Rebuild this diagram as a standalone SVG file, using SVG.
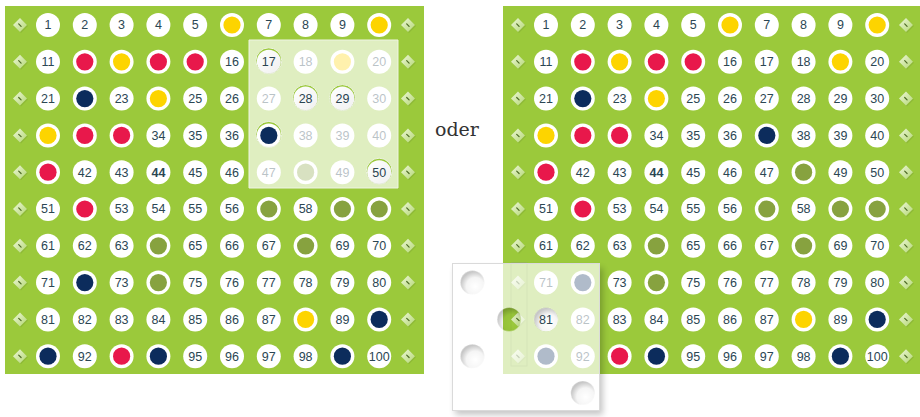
<svg xmlns="http://www.w3.org/2000/svg" xmlns:xlink="http://www.w3.org/1999/xlink" width="920" height="417" viewBox="0 0 920 417">
<style>
text{font-family:"Liberation Sans",Arial,sans-serif;font-size:12.5px;fill:#2b4653;text-anchor:middle}
.b{font-weight:bold}
.board{fill:#9bc93b}
.oder{font-family:"DejaVu Serif","Liberation Serif",serif;font-size:19px;fill:#333;text-anchor:start}
</style>
<defs>
<linearGradient id="dg" x1="0" y1="0" x2="1" y2="1"><stop offset="0" stop-color="#eef7da"/><stop offset="1" stop-color="#b3d773"/></linearGradient>
<radialGradient id="hs" cx=".62" cy=".66" r=".62"><stop offset="0" stop-color="#000" stop-opacity="0"/><stop offset=".6" stop-color="#000" stop-opacity=".04"/><stop offset="1" stop-color="#000" stop-opacity=".22"/></radialGradient>
<linearGradient id="hl" x1="0" y1="0" x2="1" y2="1"><stop offset="0" stop-color="#000" stop-opacity="0"/><stop offset="1" stop-color="#000" stop-opacity=".06"/></linearGradient>
<circle id="wc" r="12" fill="#fff"/>
<g id="dR"><circle r="12" fill="#fff"/><circle r="8.6" fill="#e8184b"/></g>
<g id="dY"><circle r="12" fill="#fff"/><circle r="8.6" fill="#fdd400"/></g>
<g id="dN"><circle r="12" fill="#fff"/><circle r="8.6" fill="#0c2c5c"/></g>
<g id="dO"><circle r="12" fill="#fff"/><circle r="8.6" fill="#87a23f"/></g>
<g id="dm"><polygon points="1,-6 8,1 1,8 -6,1" fill="#000" opacity=".08"/><polygon points="0,-7 7,0 0,7 -7,0" fill="url(#dg)"/><path d="M-1.3,-1.1 L1.1,1.3" stroke="#4d6a26" stroke-width="1.2" stroke-linecap="round"/></g>
<filter id="sh" x="-20%" y="-20%" width="140%" height="140%"><feGaussianBlur stdDeviation="3"/></filter>
<clipPath id="outCard"><path clip-rule="evenodd" d="M0,0H920V417H0Z M452,263H600V411H452Z"/></clipPath>
</defs>

<g id="board-left">
<rect class="board" x="5" y="6" width="419" height="368"/>
<g transform="translate(0,25)"><use href="#dm" x="20"/><use href="#wc" x="48"/><text x="48" y="4.4">1</text><use href="#wc" x="84.8"/><text x="84.8" y="4.4">2</text><use href="#wc" x="121.6"/><text x="121.6" y="4.4">3</text><use href="#wc" x="158.4"/><text x="158.4" y="4.4">4</text><use href="#wc" x="195.2"/><text x="195.2" y="4.4">5</text><use href="#dY" x="232"/><use href="#wc" x="268.8"/><text x="268.8" y="4.4">7</text><use href="#wc" x="305.6"/><text x="305.6" y="4.4">8</text><use href="#wc" x="342.4"/><text x="342.4" y="4.4">9</text><use href="#dY" x="379.2"/><use href="#dm" x="408"/></g>
<g transform="translate(0,61.8)"><use href="#dm" x="20"/><use href="#wc" x="48"/><text x="48" y="4.4">11</text><use href="#dR" x="84.8"/><use href="#dY" x="121.6"/><use href="#dR" x="158.4"/><use href="#dR" x="195.2"/><use href="#wc" x="232"/><text x="232" y="4.4">16</text><use href="#wc" x="268.8"/><text x="268.8" y="4.4">17</text><use href="#wc" x="305.6"/><text x="305.6" y="4.4">18</text><use href="#dY" x="342.4"/><use href="#wc" x="379.2"/><text x="379.2" y="4.4">20</text><use href="#dm" x="408"/></g>
<g transform="translate(0,98.6)"><use href="#dm" x="20"/><use href="#wc" x="48"/><text x="48" y="4.4">21</text><use href="#dN" x="84.8"/><use href="#wc" x="121.6"/><text x="121.6" y="4.4">23</text><use href="#dY" x="158.4"/><use href="#wc" x="195.2"/><text x="195.2" y="4.4">25</text><use href="#wc" x="232"/><text x="232" y="4.4">26</text><use href="#wc" x="268.8"/><text x="268.8" y="4.4">27</text><use href="#wc" x="305.6"/><text x="305.6" y="4.4">28</text><use href="#wc" x="342.4"/><text x="342.4" y="4.4">29</text><use href="#wc" x="379.2"/><text x="379.2" y="4.4">30</text><use href="#dm" x="408"/></g>
<g transform="translate(0,135.4)"><use href="#dm" x="20"/><use href="#dY" x="48"/><use href="#dR" x="84.8"/><use href="#dR" x="121.6"/><use href="#wc" x="158.4"/><text x="158.4" y="4.4">34</text><use href="#wc" x="195.2"/><text x="195.2" y="4.4">35</text><use href="#wc" x="232"/><text x="232" y="4.4">36</text><use href="#dN" x="268.8"/><use href="#wc" x="305.6"/><text x="305.6" y="4.4">38</text><use href="#wc" x="342.4"/><text x="342.4" y="4.4">39</text><use href="#wc" x="379.2"/><text x="379.2" y="4.4">40</text><use href="#dm" x="408"/></g>
<g transform="translate(0,172.2)"><use href="#dm" x="20"/><use href="#dR" x="48"/><use href="#wc" x="84.8"/><text x="84.8" y="4.4">42</text><use href="#wc" x="121.6"/><text x="121.6" y="4.4">43</text><use href="#wc" x="158.4"/><text class="b" x="158.4" y="4.4">44</text><use href="#wc" x="195.2"/><text x="195.2" y="4.4">45</text><use href="#wc" x="232"/><text x="232" y="4.4">46</text><use href="#wc" x="268.8"/><text x="268.8" y="4.4">47</text><use href="#dO" x="305.6"/><use href="#wc" x="342.4"/><text x="342.4" y="4.4">49</text><use href="#wc" x="379.2"/><text x="379.2" y="4.4">50</text><use href="#dm" x="408"/></g>
<g transform="translate(0,209)"><use href="#dm" x="20"/><use href="#wc" x="48"/><text x="48" y="4.4">51</text><use href="#dR" x="84.8"/><use href="#wc" x="121.6"/><text x="121.6" y="4.4">53</text><use href="#wc" x="158.4"/><text x="158.4" y="4.4">54</text><use href="#wc" x="195.2"/><text x="195.2" y="4.4">55</text><use href="#wc" x="232"/><text x="232" y="4.4">56</text><use href="#dO" x="268.8"/><use href="#wc" x="305.6"/><text x="305.6" y="4.4">58</text><use href="#dO" x="342.4"/><use href="#dO" x="379.2"/><use href="#dm" x="408"/></g>
<g transform="translate(0,245.8)"><use href="#dm" x="20"/><use href="#wc" x="48"/><text x="48" y="4.4">61</text><use href="#wc" x="84.8"/><text x="84.8" y="4.4">62</text><use href="#wc" x="121.6"/><text x="121.6" y="4.4">63</text><use href="#dO" x="158.4"/><use href="#wc" x="195.2"/><text x="195.2" y="4.4">65</text><use href="#wc" x="232"/><text x="232" y="4.4">66</text><use href="#wc" x="268.8"/><text x="268.8" y="4.4">67</text><use href="#dO" x="305.6"/><use href="#wc" x="342.4"/><text x="342.4" y="4.4">69</text><use href="#wc" x="379.2"/><text x="379.2" y="4.4">70</text><use href="#dm" x="408"/></g>
<g transform="translate(0,282.6)"><use href="#dm" x="20"/><use href="#wc" x="48"/><text x="48" y="4.4">71</text><use href="#dN" x="84.8"/><use href="#wc" x="121.6"/><text x="121.6" y="4.4">73</text><use href="#dO" x="158.4"/><use href="#wc" x="195.2"/><text x="195.2" y="4.4">75</text><use href="#wc" x="232"/><text x="232" y="4.4">76</text><use href="#wc" x="268.8"/><text x="268.8" y="4.4">77</text><use href="#wc" x="305.6"/><text x="305.6" y="4.4">78</text><use href="#wc" x="342.4"/><text x="342.4" y="4.4">79</text><use href="#wc" x="379.2"/><text x="379.2" y="4.4">80</text><use href="#dm" x="408"/></g>
<g transform="translate(0,319.4)"><use href="#dm" x="20"/><use href="#wc" x="48"/><text x="48" y="4.4">81</text><use href="#wc" x="84.8"/><text x="84.8" y="4.4">82</text><use href="#wc" x="121.6"/><text x="121.6" y="4.4">83</text><use href="#wc" x="158.4"/><text x="158.4" y="4.4">84</text><use href="#wc" x="195.2"/><text x="195.2" y="4.4">85</text><use href="#wc" x="232"/><text x="232" y="4.4">86</text><use href="#wc" x="268.8"/><text x="268.8" y="4.4">87</text><use href="#dY" x="305.6"/><use href="#wc" x="342.4"/><text x="342.4" y="4.4">89</text><use href="#dN" x="379.2"/><use href="#dm" x="408"/></g>
<g transform="translate(0,356.2)"><use href="#dm" x="20"/><use href="#dN" x="48"/><use href="#wc" x="84.8"/><text x="84.8" y="4.4">92</text><use href="#dR" x="121.6"/><use href="#dN" x="158.4"/><use href="#wc" x="195.2"/><text x="195.2" y="4.4">95</text><use href="#wc" x="232"/><text x="232" y="4.4">96</text><use href="#wc" x="268.8"/><text x="268.8" y="4.4">97</text><use href="#wc" x="305.6"/><text x="305.6" y="4.4">98</text><use href="#dN" x="342.4"/><use href="#wc" x="379.2"/><text x="379.2" y="4.4">100</text><use href="#dm" x="408"/></g>
</g>

<g id="mask-left">
<path fill="#fff" fill-opacity=".68" fill-rule="evenodd" stroke="#eef4e2" stroke-width="1" d="M249,40H398V188H249Z M255.8,60.8a13,13 0 1,0 26,0a13,13 0 1,0 -26,0Z M292.6,97.6a13,13 0 1,0 26,0a13,13 0 1,0 -26,0Z M329.4,97.6a13,13 0 1,0 26,0a13,13 0 1,0 -26,0Z M255.8,134.4a13,13 0 1,0 26,0a13,13 0 1,0 -26,0Z M366.2,171.2a13,13 0 1,0 26,0a13,13 0 1,0 -26,0Z"/>
<g fill="url(#hl)"><circle cx="268.8" cy="61.8" r="12"/><circle cx="305.6" cy="98.6" r="12"/><circle cx="342.4" cy="98.6" r="12"/><circle cx="379.2" cy="172.2" r="12"/></g>
</g>

<text id="oder" class="oder" x="435" y="136">oder</text>

<g id="board-right" transform="translate(498,0)">
<rect class="board" x="5" y="6" width="420" height="368"/>
<g transform="translate(0,25)"><use href="#dm" x="20"/><use href="#wc" x="48"/><text x="48" y="4.4">1</text><use href="#wc" x="84.8"/><text x="84.8" y="4.4">2</text><use href="#wc" x="121.6"/><text x="121.6" y="4.4">3</text><use href="#wc" x="158.4"/><text x="158.4" y="4.4">4</text><use href="#wc" x="195.2"/><text x="195.2" y="4.4">5</text><use href="#dY" x="232"/><use href="#wc" x="268.8"/><text x="268.8" y="4.4">7</text><use href="#wc" x="305.6"/><text x="305.6" y="4.4">8</text><use href="#wc" x="342.4"/><text x="342.4" y="4.4">9</text><use href="#dY" x="379.2"/><use href="#dm" x="408"/></g>
<g transform="translate(0,61.8)"><use href="#dm" x="20"/><use href="#wc" x="48"/><text x="48" y="4.4">11</text><use href="#dR" x="84.8"/><use href="#dY" x="121.6"/><use href="#dR" x="158.4"/><use href="#dR" x="195.2"/><use href="#wc" x="232"/><text x="232" y="4.4">16</text><use href="#wc" x="268.8"/><text x="268.8" y="4.4">17</text><use href="#wc" x="305.6"/><text x="305.6" y="4.4">18</text><use href="#dY" x="342.4"/><use href="#wc" x="379.2"/><text x="379.2" y="4.4">20</text><use href="#dm" x="408"/></g>
<g transform="translate(0,98.6)"><use href="#dm" x="20"/><use href="#wc" x="48"/><text x="48" y="4.4">21</text><use href="#dN" x="84.8"/><use href="#wc" x="121.6"/><text x="121.6" y="4.4">23</text><use href="#dY" x="158.4"/><use href="#wc" x="195.2"/><text x="195.2" y="4.4">25</text><use href="#wc" x="232"/><text x="232" y="4.4">26</text><use href="#wc" x="268.8"/><text x="268.8" y="4.4">27</text><use href="#wc" x="305.6"/><text x="305.6" y="4.4">28</text><use href="#wc" x="342.4"/><text x="342.4" y="4.4">29</text><use href="#wc" x="379.2"/><text x="379.2" y="4.4">30</text><use href="#dm" x="408"/></g>
<g transform="translate(0,135.4)"><use href="#dm" x="20"/><use href="#dY" x="48"/><use href="#dR" x="84.8"/><use href="#dR" x="121.6"/><use href="#wc" x="158.4"/><text x="158.4" y="4.4">34</text><use href="#wc" x="195.2"/><text x="195.2" y="4.4">35</text><use href="#wc" x="232"/><text x="232" y="4.4">36</text><use href="#dN" x="268.8"/><use href="#wc" x="305.6"/><text x="305.6" y="4.4">38</text><use href="#wc" x="342.4"/><text x="342.4" y="4.4">39</text><use href="#wc" x="379.2"/><text x="379.2" y="4.4">40</text><use href="#dm" x="408"/></g>
<g transform="translate(0,172.2)"><use href="#dm" x="20"/><use href="#dR" x="48"/><use href="#wc" x="84.8"/><text x="84.8" y="4.4">42</text><use href="#wc" x="121.6"/><text x="121.6" y="4.4">43</text><use href="#wc" x="158.4"/><text class="b" x="158.4" y="4.4">44</text><use href="#wc" x="195.2"/><text x="195.2" y="4.4">45</text><use href="#wc" x="232"/><text x="232" y="4.4">46</text><use href="#wc" x="268.8"/><text x="268.8" y="4.4">47</text><use href="#dO" x="305.6"/><use href="#wc" x="342.4"/><text x="342.4" y="4.4">49</text><use href="#wc" x="379.2"/><text x="379.2" y="4.4">50</text><use href="#dm" x="408"/></g>
<g transform="translate(0,209)"><use href="#dm" x="20"/><use href="#wc" x="48"/><text x="48" y="4.4">51</text><use href="#dR" x="84.8"/><use href="#wc" x="121.6"/><text x="121.6" y="4.4">53</text><use href="#wc" x="158.4"/><text x="158.4" y="4.4">54</text><use href="#wc" x="195.2"/><text x="195.2" y="4.4">55</text><use href="#wc" x="232"/><text x="232" y="4.4">56</text><use href="#dO" x="268.8"/><use href="#wc" x="305.6"/><text x="305.6" y="4.4">58</text><use href="#dO" x="342.4"/><use href="#dO" x="379.2"/><use href="#dm" x="408"/></g>
<g transform="translate(0,245.8)"><use href="#dm" x="20"/><use href="#wc" x="48"/><text x="48" y="4.4">61</text><use href="#wc" x="84.8"/><text x="84.8" y="4.4">62</text><use href="#wc" x="121.6"/><text x="121.6" y="4.4">63</text><use href="#dO" x="158.4"/><use href="#wc" x="195.2"/><text x="195.2" y="4.4">65</text><use href="#wc" x="232"/><text x="232" y="4.4">66</text><use href="#wc" x="268.8"/><text x="268.8" y="4.4">67</text><use href="#dO" x="305.6"/><use href="#wc" x="342.4"/><text x="342.4" y="4.4">69</text><use href="#wc" x="379.2"/><text x="379.2" y="4.4">70</text><use href="#dm" x="408"/></g>
<g transform="translate(0,282.6)"><use href="#dm" x="20"/><use href="#wc" x="48"/><text x="48" y="4.4">71</text><use href="#dN" x="84.8"/><use href="#wc" x="121.6"/><text x="121.6" y="4.4">73</text><use href="#dO" x="158.4"/><use href="#wc" x="195.2"/><text x="195.2" y="4.4">75</text><use href="#wc" x="232"/><text x="232" y="4.4">76</text><use href="#wc" x="268.8"/><text x="268.8" y="4.4">77</text><use href="#wc" x="305.6"/><text x="305.6" y="4.4">78</text><use href="#wc" x="342.4"/><text x="342.4" y="4.4">79</text><use href="#wc" x="379.2"/><text x="379.2" y="4.4">80</text><use href="#dm" x="408"/></g>
<g transform="translate(0,319.4)"><use href="#dm" x="20"/><use href="#wc" x="48"/><text x="48" y="4.4">81</text><use href="#wc" x="84.8"/><text x="84.8" y="4.4">82</text><use href="#wc" x="121.6"/><text x="121.6" y="4.4">83</text><use href="#wc" x="158.4"/><text x="158.4" y="4.4">84</text><use href="#wc" x="195.2"/><text x="195.2" y="4.4">85</text><use href="#wc" x="232"/><text x="232" y="4.4">86</text><use href="#wc" x="268.8"/><text x="268.8" y="4.4">87</text><use href="#dY" x="305.6"/><use href="#wc" x="342.4"/><text x="342.4" y="4.4">89</text><use href="#dN" x="379.2"/><use href="#dm" x="408"/></g>
<g transform="translate(0,356.2)"><use href="#dm" x="20"/><use href="#dN" x="48"/><use href="#wc" x="84.8"/><text x="84.8" y="4.4">92</text><use href="#dR" x="121.6"/><use href="#dN" x="158.4"/><use href="#wc" x="195.2"/><text x="195.2" y="4.4">95</text><use href="#wc" x="232"/><text x="232" y="4.4">96</text><use href="#wc" x="268.8"/><text x="268.8" y="4.4">97</text><use href="#wc" x="305.6"/><text x="305.6" y="4.4">98</text><use href="#dN" x="342.4"/><use href="#wc" x="379.2"/><text x="379.2" y="4.4">100</text><use href="#dm" x="408"/></g>
</g>

<g id="card-right">
<g clip-path="url(#outCard)"><rect x="455" y="268" width="148" height="147" fill="#000" opacity=".22" filter="url(#sh)"/></g>
<path fill="#fff" fill-opacity=".68" fill-rule="evenodd" d="M452,263H600V411H452Z M460.4,282.6a12,12 0 1,0 24,0a12,12 0 1,0 -24,0Z M497.2,319.4a12,12 0 1,0 24,0a12,12 0 1,0 -24,0Z M534,319.4a12,12 0 1,0 24,0a12,12 0 1,0 -24,0Z M460.4,356.2a12,12 0 1,0 24,0a12,12 0 1,0 -24,0Z M570.8,393a12,12 0 1,0 24,0a12,12 0 1,0 -24,0Z"/>
<rect x="511" y="263" width="16" height="103" fill="none" stroke="#000" stroke-opacity=".05" stroke-width=".8"/>
<rect x="511" y="262.5" width="16" height="1.5" fill="#9aa08f" opacity=".6"/>
<g fill="url(#hs)" stroke="#fff" stroke-opacity=".5" stroke-width=".6"><circle cx="472.4" cy="282.6" r="12"/><circle cx="509.2" cy="319.4" r="12"/><circle cx="546" cy="319.4" r="12"/><circle cx="472.4" cy="356.2" r="12"/><circle cx="582.8" cy="393" r="12"/></g>
<rect x="452.5" y="263.5" width="147" height="147" fill="none" stroke="#dadada" stroke-width="1"/>
</g>
</svg>
